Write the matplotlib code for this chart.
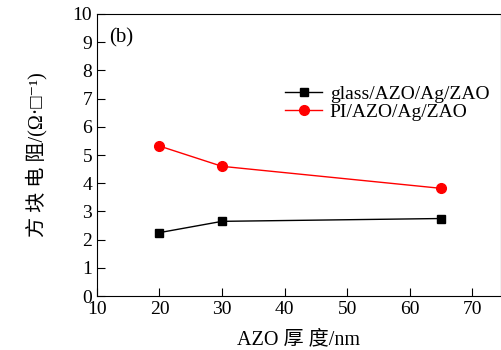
import numpy as np
from matplotlib import pyplot as plt

plt.rcParams['font.family'] = ['Liberation Serif', 'Noto Sans CJK SC', 'DejaVu Sans']

# sheet resistance vs AZO thickness
thickness = [20, 30, 65]
glass_vals = [2.25, 2.65, 2.75]
pi_vals = [5.32, 4.6, 3.82]
labels = ['glass/AZO/Ag/ZAO', 'PI/AZO/Ag/ZAO']

fig = plt.figure(figsize=(5.02, 3.5), dpi=100)
ax = fig.add_axes([0.193, 0.154, 0.805, 0.806])

ax.plot(thickness, glass_vals, '-s', color='black', lw=1, ms=6, label=labels[0])
ax.plot(thickness, pi_vals, '-o', color='red', lw=1, ms=7, label=labels[1])

ax.set_xlim(10, 74.6)
ax.set_ylim(0, 10)
ax.set_xticks(np.arange(10, 71, 10))
ax.set_yticks(np.arange(0, 11, 1))
ax.tick_params(direction='in', length=6, labelsize=14, top=False, right=False)

ax.set_xlabel('AZO 厚 度/nm', fontsize=14.5, labelpad=9)
ax.set_ylabel('方 块 电 阻/(Ω·□⁻¹)', fontsize=14.5, labelpad=18)
ax.text(0.03, 0.9, '(b)', transform=ax.transAxes, fontsize=15)

ax.legend(loc='upper right', bbox_to_anchor=(1.0, 0.79), frameon=False, fontsize=14,
          handlelength=1.9, handletextpad=0.4, labelspacing=0.05, borderaxespad=0.2)

plt.savefig('out.png', dpi=100)
